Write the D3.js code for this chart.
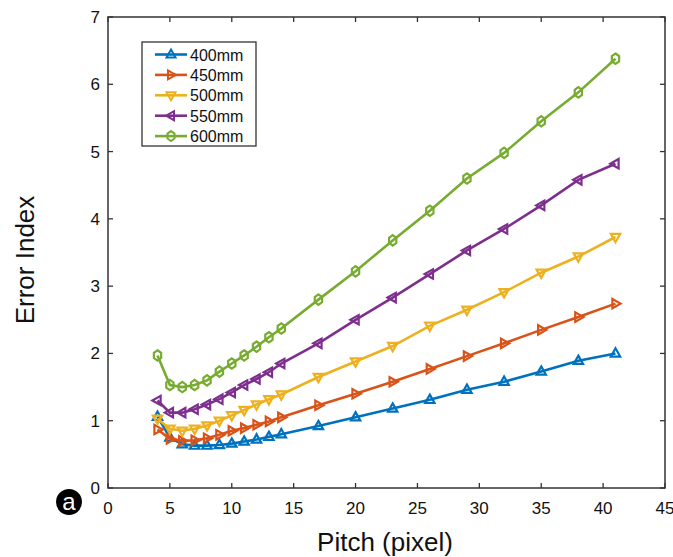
<!DOCTYPE html>
<html><head><meta charset="utf-8">
<script src="https://cdn.jsdelivr.net/npm/d3@7"></script>
<style>body{margin:0;background:#fff}svg{display:block}text{font-family:"Liberation Sans",Arial,sans-serif}</style>
</head><body>
<svg id="c" width="673" height="557"></svg>
<script>
const pitch = [4,5,6,7,8,9,10,11,12,13,14,17,20,23,26,29,32,35,38,41];
const s400 = [1.06,0.75,0.65,0.63,0.63,0.64,0.66,0.69,0.72,0.76,0.80,0.92,1.05,1.18,1.31,1.46,1.58,1.73,1.89,2.00];
const s450 = [0.87,0.73,0.70,0.71,0.74,0.79,0.85,0.89,0.94,0.99,1.05,1.23,1.40,1.58,1.77,1.96,2.15,2.35,2.54,2.74];
const s500 = [1.03,0.88,0.85,0.88,0.93,1.00,1.08,1.16,1.24,1.32,1.39,1.65,1.88,2.11,2.41,2.65,2.91,3.20,3.44,3.73];
const s550 = [1.30,1.12,1.12,1.17,1.24,1.32,1.42,1.53,1.62,1.72,1.85,2.15,2.50,2.83,3.18,3.53,3.85,4.20,4.58,4.82];
const s600 = [1.97,1.53,1.50,1.53,1.60,1.73,1.85,1.97,2.10,2.24,2.37,2.80,3.22,3.68,4.12,4.60,4.98,5.45,5.88,6.38];
const seriesNames = ["400mm","450mm","500mm","550mm","600mm"];
const xTicks = [0,5,10,15,20,25,30,35,40,45];
const yTicks = [0,1,2,3,4,5,6,7];

const colors = ["#0072BD","#D95319","#EDB120","#7E2F8E","#77AC30"];
const markers = ["up","right","down","left","hex"];
const allSeries = [s400,s450,s500,s550,s600];

const svg = d3.select("#c");
const L=108, R=665, T=17, B=488;
const x = d3.scaleLinear().domain([0,45]).range([L,R]);
const y = d3.scaleLinear().domain([0,7]).range([B,T]);
const axc = "#333";

function markerPath(type, s){
  const a=s;
  switch(type){
    case "up": return `M0,${-a}L${a*0.9},${a*0.6}L${-a*0.9},${a*0.6}Z`;
    case "down": return `M0,${a}L${a*0.9},${-a*0.6}L${-a*0.9},${-a*0.6}Z`;
    case "right": return `M${a},0L${-a*0.6},${a*0.9}L${-a*0.6},${-a*0.9}Z`;
    case "left": return `M${-a},0L${a*0.6},${a*0.9}L${a*0.6},${-a*0.9}Z`;
    case "hex": {
      const rx=a*0.7, ry=a;
      return `M0,${-ry}L${rx},${-ry*0.5}L${rx},${ry*0.5}L0,${ry}L${-rx},${ry*0.5}L${-rx},${-ry*0.5}Z`;
    }
  }
}

// box
svg.append("rect").attr("x",L).attr("y",T).attr("width",R-L).attr("height",B-T)
  .attr("fill","none").attr("stroke",axc).attr("stroke-width",1.5);

// ticks
const tl=5;
xTicks.forEach(t=>{
  svg.append("line").attr("x1",x(t)).attr("x2",x(t)).attr("y1",B).attr("y2",B-tl).attr("stroke",axc).attr("stroke-width",1.3);
  svg.append("line").attr("x1",x(t)).attr("x2",x(t)).attr("y1",T).attr("y2",T+tl).attr("stroke",axc).attr("stroke-width",1.3);
  svg.append("text").attr("x",x(t)).attr("y",B+26).attr("text-anchor","middle").attr("font-size",17).attr("fill","#111").text(t);
});
yTicks.forEach(t=>{
  svg.append("line").attr("x1",L).attr("x2",L+tl).attr("y1",y(t)).attr("y2",y(t)).attr("stroke",axc).attr("stroke-width",1.3);
  svg.append("line").attr("x1",R).attr("x2",R-tl).attr("y1",y(t)).attr("y2",y(t)).attr("stroke",axc).attr("stroke-width",1.3);
  svg.append("text").attr("x",L-8).attr("y",y(t)+6).attr("text-anchor","end").attr("font-size",17).attr("fill","#111").text(t);
});

// labels
svg.append("text").attr("x",385).attr("y",551).attr("text-anchor","middle").attr("font-size",26).attr("fill","#111").text("Pitch (pixel)");
svg.append("text").attr("transform","translate(34,260) rotate(-90)").attr("text-anchor","middle").attr("font-size",26).attr("fill","#111").text("Error  Index");

// panel label
svg.append("circle").attr("cx",69).attr("cy",502).attr("r",13).attr("fill","#000");
svg.append("text").attr("x",69).attr("y",510).attr("text-anchor","middle").attr("font-size",24).attr("fill","#fff").text("a");

// series
const line = d3.line().x((d,i)=>x(pitch[i])).y(d=>y(d));
allSeries.forEach((s,k)=>{
  const g = svg.append("g");
  g.append("path").attr("d",line(s)).attr("fill","none").attr("stroke",colors[k]).attr("stroke-width",2.6);
  g.selectAll("path.m").data(s).enter().append("path").attr("class","m")
    .attr("transform",(d,i)=>`translate(${x(pitch[i])},${y(d)})`)
    .attr("d",markerPath(markers[k],5.2))
    .attr("fill","none").attr("stroke",colors[k]).attr("stroke-width",2.2);
});

// legend
const lg = svg.append("g");
lg.append("rect").attr("x",142).attr("y",42).attr("width",114).attr("height",104).attr("fill","#fff").attr("stroke",axc).attr("stroke-width",1.3);
seriesNames.forEach((n,k)=>{
  const yy = 54.5 + k*20.4;
  lg.append("line").attr("x1",155).attr("x2",187).attr("y1",yy).attr("y2",yy).attr("stroke",colors[k]).attr("stroke-width",2.6);
  lg.append("path").attr("transform",`translate(171,${yy})`).attr("d",markerPath(markers[k],5)).attr("fill","none").attr("stroke",colors[k]).attr("stroke-width",2);
  lg.append("text").attr("x",190).attr("y",yy+6).attr("font-size",16).attr("fill","#111").text(n);
});
</script>
</body></html>
